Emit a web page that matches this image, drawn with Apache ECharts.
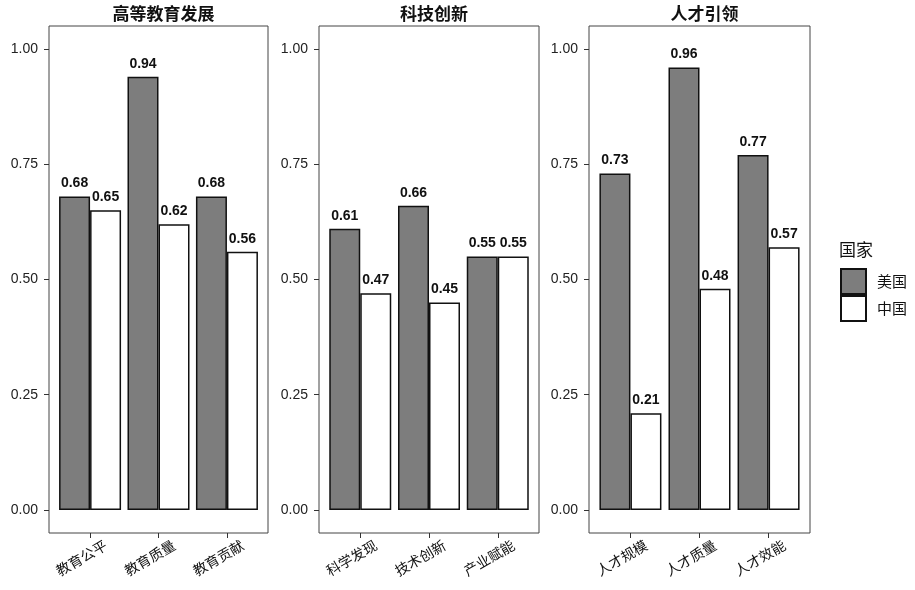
<!DOCTYPE html>
<html>
<head>
<meta charset="utf-8">
<script src="https://cdn.jsdelivr.net/npm/echarts@6/dist/echarts.min.js"></script>
<style>html,body{margin:0;padding:0;background:#fff;}#main{width:915px;height:590px;}</style>
</head>
<body>
<div id="main"></div>
<script>
const panelTitles = ['高等教育发展', '科技创新', '人才引领'];
const categories1 = ['教育公平', '教育质量', '教育贡献'];
const categories2 = ['科学发现', '技术创新', '产业赋能'];
const categories3 = ['人才规模', '人才质量', '人才效能'];
const usa1 = [0.68, 0.94, 0.68];
const china1 = [0.65, 0.62, 0.56];
const usa2 = [0.61, 0.66, 0.55];
const china2 = [0.47, 0.45, 0.55];
const usa3 = [0.73, 0.96, 0.77];
const china3 = [0.21, 0.48, 0.57];
const seriesNames = ['美国', '中国'];
const legendTitle = '国家';
const yTicks = [0, 0.25, 0.5, 0.75, 1];
const xPositions = [1, 2, 3];

const cats = [categories1, categories2, categories3];
const usa = [usa1, usa2, usa3];
const china = [china1, china2, china3];

const grids = [
  {left: 49, width: 219},
  {left: 319, width: 220},
  {left: 589, width: 221}
];
const cjk = '"Noto Sans CJK SC", sans-serif';
const latin = '"Liberation Sans", Arial, sans-serif';

const option = {
  backgroundColor: '#ffffff',
  animation: false,
  title: grids.map((g, i) => ({
    text: panelTitles[i],
    left: g.left + g.width / 2,
    textAlign: 'center',
    top: 0,
    textStyle: {fontFamily: cjk, fontSize: 17, fontWeight: 'bold', color: '#111'}
  })).concat([{
    text: legendTitle,
    left: 834,
    top: 236,
    textStyle: {fontFamily: cjk, fontSize: 17, fontWeight: 'normal', color: '#111'}
  }]),
  legend: {
    data: seriesNames,
    orient: 'vertical',
    left: 835,
    top: 263,
    itemWidth: 25,
    itemHeight: 25,
    itemGap: 0,
    icon: 'rect',
    textStyle: {fontFamily: cjk, fontSize: 15, color: '#111', padding: [0, 0, 0, 6]}
  },
  grid: grids.map(g => ({
    left: g.left, width: g.width, top: 26, height: 507,
    show: true, borderColor: '#444', borderWidth: 1, backgroundColor: '#fff'
  })),
  xAxis: grids.map((g, i) => ({
    type: 'value', gridIndex: i, min: 0.4, max: 3.6,
    axisLine: {show: false, onZero: false},
    splitLine: {show: false},
    axisTick: {show: true, customValues: xPositions, length: 5, lineStyle: {color: '#333'}},
    axisLabel: {
      customValues: xPositions,
      formatter: v => cats[i][Math.round(v) - 1],
      rotate: 30,
      align: 'center',
      margin: 20,
      padding: [0, 20, 0, 0],
      fontFamily: cjk, fontSize: 14, color: '#111'
    }
  })),
  yAxis: grids.map((g, i) => ({
    type: 'value', gridIndex: i, min: -0.05, max: 1.05,
    axisLine: {show: false, onZero: false},
    splitLine: {show: false},
    axisTick: {show: true, customValues: yTicks, length: 5, lineStyle: {color: '#333'}},
    axisLabel: {
      customValues: yTicks,
      formatter: v => v.toFixed(2),
      margin: 11,
      fontFamily: latin, fontSize: 14, color: '#222'
    }
  })),
  series: []
};

for (let i = 0; i < 3; i++) {
  [usa[i], china[i]].forEach((vals, k) => {
    option.series.push({
      type: 'bar',
      name: seriesNames[k],
      xAxisIndex: i,
      yAxisIndex: i,
      barWidth: 31,
      barGap: '0%',
      data: xPositions.map((x, j) => [x, vals[j]]),
      itemStyle: {color: k === 0 ? '#7d7d7d' : '#ffffff', borderColor: '#111', borderWidth: 1.5},
      label: {
        show: true, position: 'top', distance: 6,
        formatter: p => p.value[1].toFixed(2),
        fontFamily: latin, fontSize: 14, fontWeight: 'bold', color: '#111'
      }
    });
  });
}

const chart = echarts.init(document.getElementById('main'));
chart.setOption(option);
</script>
</body>
</html>
